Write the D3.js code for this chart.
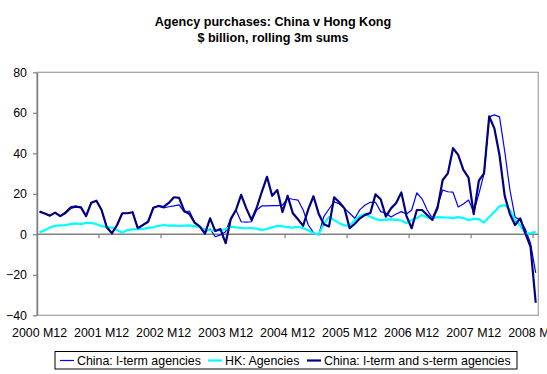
<!DOCTYPE html>
<html>
<head>
<meta charset="utf-8">
<script src="https://cdn.jsdelivr.net/npm/d3@7"></script>
<style>
  body { margin: 0; background: #fff; }
  svg { display: block; font-family: "Liberation Sans", Arial, sans-serif; }
</style>
</head>
<body>
<div id="chart"></div>
<script>
// monthly categories, 2000 M12 .. 2008 M12
const months = [];
for (let i = 0; i < 97; i++) {
    const m = (11 + i) % 12 + 1;
    const yr = 2000 + Math.floor((11 + i) / 12);
    months.push(yr + " M" + m);
}
const tickLabels = ["2000 M12", "2001 M12", "2002 M12", "2003 M12", "2004 M12",
    "2005 M12", "2006 M12", "2007 M12", "2008 M12"];
const yTicks = [-40, -20, 0, 20, 40, 60, 80];

const chinaLterm = [
    11.2, 10.3, 9.2, 10.7, 9.0, 11.0, 13.5, 14.0, 13.3, 9.0,
    15.6, 16.6, 12.0, 3.5, 0.5, 4.6, 10.4, 10.4, 10.9, 3.0,
    4.6, 6.2, 13.1, 14.0, 13.0, 13.6, 14.0, 14.5, 11.0, 11.5,
    6.0, 3.8, 1.2, 2.6, -1.2, -0.3, 1.3, 7.9, 12.0, 6.2,
    6.0, 6.2, 12.0, 14.0, 14.0, 14.2, 14.2, 14.4, 17.8, 17.3,
    16.9, 12.0, 4.6, 0.8, -0.3, 8.7, 12.5, 16.1, 15.0, 12.8,
    10.4, 7.9, 12.2, 14.5, 15.8, 15.8, 11.2, 10.4, 8.5, 10.0,
    11.2, 10.0, 12.0, 20.5, 17.5, 12.0, 8.0, 14.0, 21.9, 21.0,
    20.8, 13.5, 15.0, 16.9, 11.0, 20.0, 30.0, 58.0, 59.0, 58.0,
    41.0, 22.0, 8.5, 7.0, 2.5, -4.5, -19.0
];
const hkAgencies = [
    1.0, 2.0, 3.3, 4.2, 4.4, 4.5, 5.0, 5.4, 5.0, 5.6,
    5.7, 5.0, 4.0, 3.5, 3.3, 2.1, 0.8, 2.1, 2.4, 2.5,
    2.7, 3.2, 3.4, 4.2, 4.6, 4.3, 4.4, 4.1, 4.3, 4.4,
    4.0, 3.6, 2.3, 2.0, 1.8, 2.0, 2.6, 3.8, 3.4, 3.2,
    3.0, 3.1, 2.8, 2.2, 2.6, 3.4, 4.2, 3.9, 3.5, 3.3,
    3.7, 3.0, 2.0, 0.5, 0.0, 5.0, 8.6, 7.0, 5.5, 4.4,
    4.2, 7.0, 9.0, 10.0, 8.7, 7.5, 7.0, 7.2, 7.4, 7.1,
    6.8, 5.5, 7.0, 8.0, 9.5, 8.3, 8.0, 8.5, 8.4, 8.3,
    8.0, 8.5, 8.0, 7.0, 7.6, 7.5, 5.8, 8.5, 11.0, 13.8,
    14.5, 12.0, 7.0, 4.4, 0.5, 0.5, 1.3
];
const chinaAll = [
    11.2, 10.3, 9.2, 10.7, 9.0, 10.5, 13.0, 13.6, 13.3, 9.0,
    15.6, 16.6, 12.0, 3.5, 0.5, 4.6, 10.4, 10.4, 10.9, 3.0,
    4.6, 6.2, 13.1, 14.0, 13.5, 15.5, 18.3, 18.0, 11.5, 10.0,
    5.8, 3.8, 0.3, 7.9, 1.6, 2.6, -4.4, 7.5, 12.0, 19.5,
    12.8, 7.1, 13.0, 21.0, 28.4, 19.0, 21.9, 11.0, 19.0, 10.4,
    7.4, 4.2, 12.4, 18.8, 10.2, 5.0, 3.8, 18.3, 15.8, 12.8,
    3.0, 5.2, 7.9, 9.6, 10.5, 19.7, 17.3, 8.7, 12.8, 15.5,
    20.7, 9.0, 3.0, 12.0, 12.0, 9.5, 7.1, 13.0, 26.8, 30.1,
    42.5, 39.2, 31.8, 28.0, 10.0, 26.5, 30.1, 58.2, 52.3, 39.0,
    19.0, 10.0, 4.6, 7.9, 0.5, -6.2, -33.8
];

const series = [
    { name: "China: l-term agencies", values: chinaLterm, color: "#0000ff", width: 1.2 },
    { name: "HK: Agencies", values: hkAgencies, color: "#00ffff", width: 2.2 },
    { name: "China: l-term and s-term agencies", values: chinaAll, color: "#000080", width: 2.2 }
];

const width = 547, height = 374;
const plotLeft = 37, plotRight = 538.3, plotTop = 72.3, plotBottom = 315.3;
const fontSize = "12.4px";

const svg = d3.select("#chart").append("svg")
    .attr("width", width)
    .attr("height", height);

// titles
svg.append("text")
    .attr("x", 273).attr("y", 25.5)
    .attr("text-anchor", "middle")
    .style("font-size", "12.6px").style("font-weight", "bold")
    .text("Agency purchases: China v Hong Kong");
svg.append("text")
    .attr("x", 273).attr("y", 41.5)
    .attr("text-anchor", "middle")
    .style("font-size", "12.6px").style("font-weight", "bold")
    .text("$ billion, rolling 3m sums");

const x = d3.scaleBand().domain(months).range([plotLeft, plotRight]).padding(0);
const y = d3.scaleLinear().domain([-40, 80]).range([plotBottom, plotTop]);

// plot border
svg.append("rect")
    .attr("x", plotLeft).attr("y", plotTop)
    .attr("width", plotRight - plotLeft).attr("height", plotBottom - plotTop)
    .attr("fill", "none").attr("stroke", "#a0a0a0").attr("stroke-width", 1.2);

// y axis
const yAxis = svg.append("g")
    .attr("transform", "translate(" + plotLeft + ",0)")
    .call(d3.axisLeft(y).tickValues(yTicks).tickSize(4).tickPadding(6).tickSizeOuter(0));
yAxis.select(".domain").attr("stroke", "#808080").attr("stroke-width", 1.5);
yAxis.selectAll(".tick line").attr("stroke", "#808080").attr("stroke-width", 1.2);
yAxis.attr("font-family", null).attr("font-size", null);
yAxis.selectAll("text").style("font-size", fontSize).attr("fill", "#000");

// x axis at zero line
const y0 = y(0);
svg.append("line")
    .attr("x1", plotLeft).attr("x2", plotRight)
    .attr("y1", y0).attr("y2", y0)
    .attr("stroke", "#808080").attr("stroke-width", 1.5);

const tickCats = months.filter(m => tickLabels.includes(m));
svg.selectAll(".xtick").data(tickCats.slice(1)).enter()
    .append("line")
    .attr("class", "xtick")
    .attr("x1", d => x(d)).attr("x2", d => x(d))
    .attr("y1", y0).attr("y2", y0 + 4)
    .attr("stroke", "#808080").attr("stroke-width", 1.2);

const xAxis = svg.append("g")
    .attr("transform", "translate(0," + (plotBottom + 21.5) + ")")
    .call(d3.axisBottom(x).tickValues(tickCats).tickSize(0).tickPadding(0));
xAxis.select(".domain").remove();
xAxis.attr("font-family", null).attr("font-size", null);
xAxis.selectAll("text").style("font-size", fontSize).attr("fill", "#000").attr("dy", "0");

// lines
const line = d3.line()
    .x((d, i) => x(months[i]) + x.bandwidth() / 2)
    .y(d => y(d));

svg.selectAll(".series").data(series).enter()
    .append("path")
    .attr("class", "series")
    .attr("d", d => line(d.values))
    .attr("fill", "none")
    .attr("stroke", d => d.color)
    .attr("stroke-width", d => d.width)
    .attr("stroke-linejoin", "round");

// legend
const legend = svg.append("g");
legend.append("rect")
    .attr("x", 55).attr("y", 351.5)
    .attr("width", 462).attr("height", 17.5)
    .attr("fill", "#fff").attr("stroke", "#000").attr("stroke-width", 1);
const legendX = [60, 208, 307];
series.forEach((s, i) => {
    legend.append("line")
        .attr("x1", legendX[i]).attr("x2", legendX[i] + 14)
        .attr("y1", 360.5).attr("y2", 360.5)
        .attr("stroke", s.color).attr("stroke-width", s.width);
    legend.append("text")
        .attr("x", legendX[i] + 17).attr("y", 364.8)
        .style("font-size", fontSize)
        .text(s.name);
});
</script>
</body>
</html>
